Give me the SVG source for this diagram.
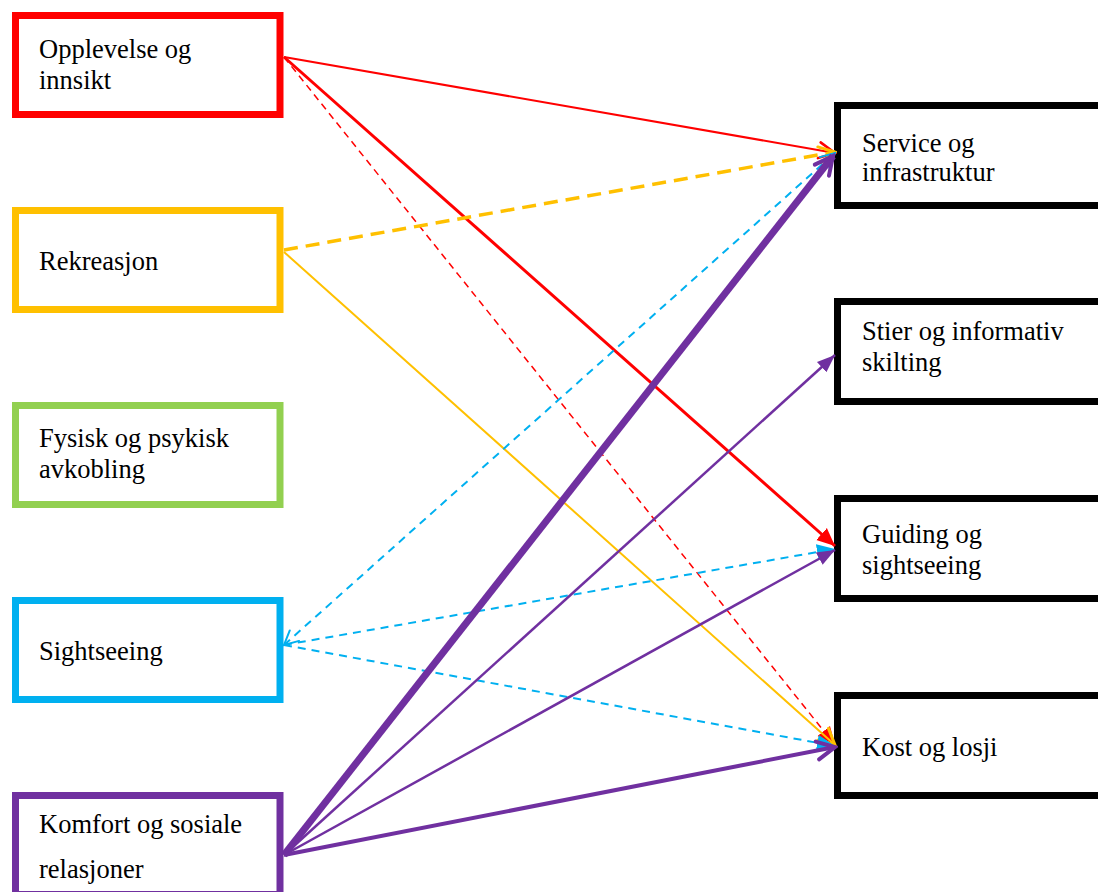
<svg xmlns="http://www.w3.org/2000/svg" width="1098" height="892" viewBox="0 0 1098 892">
<style>
.t{font-family:'Liberation Serif','Times New Roman','DejaVu Serif',serif;font-size:26.5px;fill:#000}
.box{fill:#fff;stroke-width:7}
.c{fill:none}
</style>
<defs>
<marker id="oR" markerUnits="userSpaceOnUse" viewBox="0 0 20 20" refX="18" refY="10" markerWidth="20" markerHeight="20" orient="auto-start-reverse"><path d="M2,2 L18,10 L2,18" fill="none" stroke="#ff0000" stroke-width="2.5" stroke-linecap="round"/></marker>
<marker id="oY" markerUnits="userSpaceOnUse" viewBox="0 0 20 20" refX="18" refY="10" markerWidth="20" markerHeight="20" orient="auto-start-reverse"><path d="M2,2 L18,10 L2,18" fill="none" stroke="#ffc000" stroke-width="3" stroke-linecap="round"/></marker>
<marker id="oB" markerUnits="userSpaceOnUse" viewBox="0 0 20 20" refX="18" refY="10" markerWidth="20" markerHeight="20" orient="auto-start-reverse"><path d="M4,3 L18,10 L4,17" fill="none" stroke="#00b0f0" stroke-width="2" stroke-linecap="round"/></marker>
<marker id="oP" markerUnits="userSpaceOnUse" viewBox="0 0 24 24" refX="21" refY="12" markerWidth="24" markerHeight="24" orient="auto-start-reverse"><path d="M3,3 L21,12 L3,21" fill="none" stroke="#7030a0" stroke-width="4" stroke-linecap="round"/></marker>
<marker id="fR" markerUnits="userSpaceOnUse" viewBox="0 0 20 20" refX="18" refY="10" markerWidth="20" markerHeight="20" orient="auto"><path d="M0,2 L18,10 L0,18 Z" fill="#ff0000"/></marker>
<marker id="fB" markerUnits="userSpaceOnUse" viewBox="0 0 20 20" refX="18" refY="10" markerWidth="20" markerHeight="20" orient="auto"><path d="M0,2 L18,10 L0,18 Z" fill="#00b0f0"/></marker>
<marker id="fP" markerUnits="userSpaceOnUse" viewBox="0 0 20 20" refX="18" refY="10" markerWidth="20" markerHeight="20" orient="auto"><path d="M0,3 L18,10 L0,17 Z" fill="#7030a0"/></marker>
</defs>

<g id="n-opplevelse"><rect class="box" x="15.5" y="15.5" width="264.5" height="99" stroke="#ff0000"/><text class="t" x="39" y="58">Opplevelse og</text><text class="t" x="39" y="89">innsikt</text></g>
<g id="n-rekreasjon"><rect class="box" x="15.5" y="210.5" width="264.5" height="99" stroke="#ffc000"/><text class="t" x="39" y="270">Rekreasjon</text></g>
<g id="n-fysisk"><rect class="box" x="15.5" y="405.5" width="264.5" height="99" stroke="#92d050"/><text class="t" x="39" y="447">Fysisk og psykisk</text><text class="t" x="39" y="478">avkobling</text></g>
<g id="n-sightseeing"><rect class="box" x="15.5" y="600.5" width="264.5" height="99" stroke="#00b0f0"/><text class="t" x="39" y="660">Sightseeing</text></g>
<g id="n-komfort"><rect class="box" x="15.5" y="795.5" width="264.5" height="99" stroke="#7030a0"/><text class="t" x="39" y="833">Komfort og sosiale</text><text class="t" x="39" y="878">relasjoner</text></g>

<g id="n-service"><rect class="box" x="837.5" y="105.5" width="270" height="100" stroke="#000"/><text class="t" x="862" y="152">Service og</text><text class="t" x="862" y="181">infrastruktur</text></g>
<g id="n-stier"><rect class="box" x="837.5" y="301.5" width="270" height="100" stroke="#000"/><text class="t" x="862" y="340">Stier og informativ</text><text class="t" x="862" y="371">skilting</text></g>
<g id="n-guiding"><rect class="box" x="837.5" y="498.5" width="270" height="100" stroke="#000"/><text class="t" x="862" y="543">Guiding og</text><text class="t" x="862" y="574">sightseeing</text></g>
<g id="n-kost"><rect class="box" x="837.5" y="695.5" width="270" height="100" stroke="#000"/><text class="t" x="862" y="756">Kost og losji</text></g>

<g id="connectors">
<line class="c" x1="284" y1="57" x2="835" y2="153" stroke="#ff0000" stroke-width="2" marker-end="url(#oR)"/>
<line class="c" x1="284" y1="57" x2="835" y2="546" stroke="#ff0000" stroke-width="3" marker-end="url(#fR)"/>
<line class="c" x1="284" y1="57" x2="835" y2="745" stroke="#ff0000" stroke-width="1.5" stroke-dasharray="7,5" marker-end="url(#fR)"/>
<line class="c" x1="284" y1="250" x2="835" y2="152" stroke="#ffc000" stroke-width="3.5" stroke-dasharray="14,8" marker-end="url(#oY)"/>
<line class="c" x1="284" y1="252" x2="835" y2="745" stroke="#ffc000" stroke-width="2" marker-end="url(#oY)"/>
<line class="c" x1="284" y1="645" x2="835" y2="153" stroke="#00b0f0" stroke-width="2" stroke-dasharray="8,6" marker-start="url(#oB)" marker-end="url(#oB)"/>
<line class="c" x1="284" y1="645" x2="835" y2="549" stroke="#00b0f0" stroke-width="2" stroke-dasharray="8,6" marker-end="url(#fB)"/>
<line class="c" x1="284" y1="645" x2="835" y2="746" stroke="#00b0f0" stroke-width="2" stroke-dasharray="8,6" marker-end="url(#fB)"/>
<line class="c" x1="284" y1="855" x2="833" y2="156" stroke="#7030a0" stroke-width="7" marker-end="url(#oP)"/>
<line class="c" x1="284" y1="855" x2="835" y2="355" stroke="#7030a0" stroke-width="2.5" marker-end="url(#fP)"/>
<line class="c" x1="284" y1="855" x2="835" y2="550" stroke="#7030a0" stroke-width="2.5" marker-end="url(#fP)"/>
<line class="c" x1="284" y1="855" x2="835" y2="747" stroke="#7030a0" stroke-width="4" marker-end="url(#oP)"/>
</g>
</svg>
